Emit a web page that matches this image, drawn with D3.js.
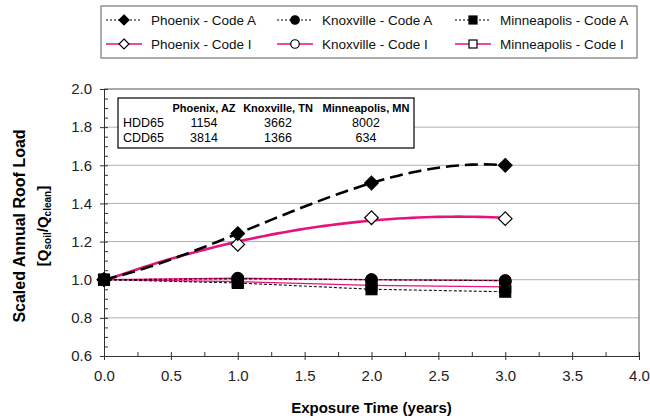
<!DOCTYPE html>
<html><head><meta charset="utf-8">
<script src="https://cdn.jsdelivr.net/npm/d3@7"></script>
<style>body{margin:0;background:#fff}svg{font-family:"Liberation Sans",Arial,sans-serif}</style>
</head><body><svg id="c" width="650" height="420"></svg>
<script>
const years = [0, 1, 2, 3];
const phoenixA = [1.0, 1.242, 1.507, 1.60];
const knoxvilleA = [1.0, 1.005, 1.0, 0.995];
const minneapolisA = [1.0, 0.983, 0.95, 0.937];
const phoenixI = [1.0, 1.185, 1.325, 1.32];
const knoxvilleI = [1.0, 1.008, 1.0, 0.995];
const minneapolisI = [1.0, 0.99, 0.97, 0.962];
const xTicks = [0, 0.5, 1, 1.5, 2, 2.5, 3, 3.5, 4];
const yTicks = [0.6, 0.8, 1.0, 1.2, 1.4, 1.6, 1.8, 2.0];
const tableCities = ["Phoenix, AZ", "Knoxville, TN", "Minneapolis, MN"];
const tableRows = ["HDD65", "CDD65"];
const hdd65 = [1154, 3662, 8002];
const cdd65 = [3814, 1366, 634];

const PINK = "#e6127e";
const svg = d3.select("#c");
const L = 104, R = 639, T = 89, B = 356;
const x = d3.scaleLinear().domain([0, 4]).range([L, R]);
const y = d3.scaleLinear().domain([0.6, 2.0]).range([B, T]);

// grid
svg.append("g").selectAll("line").data(yTicks.filter(v => v > 0.6 && v < 2.0)).join("line")
  .attr("x1", L).attr("x2", R).attr("y1", d => y(d)).attr("y2", d => y(d))
  .attr("stroke", "#b0b0b0").attr("stroke-width", 1);
// frame top/right
svg.append("line").attr("x1", L).attr("x2", R).attr("y1", T).attr("y2", T).attr("stroke", "#555");
svg.append("line").attr("x1", R).attr("x2", R).attr("y1", T).attr("y2", B).attr("stroke", "#555");

// axes
const xAxis = svg.append("g").attr("transform", `translate(0,${B})`)
  .call(d3.axisBottom(x).tickValues(xTicks).tickFormat(d3.format(".1f")).tickSize(4).tickPadding(10));
xAxis.selectAll(".tick line").attr("y1", -4);
const xMinor = svg.append("g").attr("transform", `translate(0,${B})`)
  .call(d3.axisBottom(x).tickValues(d3.range(0.25, 4, 0.5)).tickFormat("").tickSize(-4));
xMinor.select(".domain").remove();
const yAxis = svg.append("g").attr("transform", `translate(${L},0)`)
  .call(d3.axisLeft(y).tickValues(yTicks).tickFormat(d3.format(".1f")).tickSize(4).tickPadding(8));
yAxis.selectAll(".tick line").attr("x1", 4);
const yMinor = svg.append("g").attr("transform", `translate(${L},0)`)
  .call(d3.axisLeft(y).tickValues(d3.range(0.65, 2.0, 0.05).filter(v => Math.abs(v * 5 - Math.round(v * 5)) > 0.01)).tickFormat("").tickSize(-4));
yMinor.select(".domain").remove();
svg.selectAll(".domain, .tick line").attr("stroke", "#333");
svg.selectAll(".tick text").attr("font-size", 15).attr("fill", "#222").attr("font-family", "Liberation Sans, Arial");

// titles
svg.append("text").attr("x", (L + R) / 2).attr("y", 413).attr("text-anchor", "middle")
  .attr("font-size", 15).attr("font-weight", "bold").text("Exposure Time (years)");
svg.append("text").attr("transform", "translate(25,226) rotate(-90)").attr("text-anchor", "middle")
  .attr("font-size", 16).attr("font-weight", "bold").text("Scaled Annual Roof Load");
const yt2 = svg.append("text").attr("transform", "translate(48,226) rotate(-90)").attr("text-anchor", "middle")
  .attr("font-size", 15).attr("font-weight", "bold");
yt2.append("tspan").text("[Q");
yt2.append("tspan").attr("font-size", 10).attr("dy", 3).text("soil");
yt2.append("tspan").attr("dy", -3).text("/Q");
yt2.append("tspan").attr("font-size", 10).attr("dy", 3).text("clean");
yt2.append("tspan").attr("dy", -3).text("]");

// polynomial least squares fit
function polyfit(xs, ys, order) {
  const n = order + 1;
  const A = [], b = [];
  for (let i = 0; i < n; i++) {
    A.push([]);
    for (let j = 0; j < n; j++) A[i].push(d3.sum(xs, v => Math.pow(v, i + j)));
    b.push(d3.sum(xs, (v, k) => Math.pow(v, i) * ys[k]));
  }
  for (let i = 0; i < n; i++) {
    let p = i;
    for (let r = i + 1; r < n; r++) if (Math.abs(A[r][i]) > Math.abs(A[p][i])) p = r;
    [A[i], A[p]] = [A[p], A[i]]; [b[i], b[p]] = [b[p], b[i]];
    for (let r = i + 1; r < n; r++) {
      const f = A[r][i] / A[i][i];
      for (let c = i; c < n; c++) A[r][c] -= f * A[i][c];
      b[r] -= f * b[i];
    }
  }
  const co = new Array(n).fill(0);
  for (let i = n - 1; i >= 0; i--) {
    let s = b[i];
    for (let c = i + 1; c < n; c++) s -= A[i][c] * co[c];
    co[i] = s / A[i][i];
  }
  return t => co.reduce((a, c, i) => a + c * Math.pow(t, i), 0);
}
const line = d3.line().x(d => x(d[0])).y(d => y(d[1]));
const samp = d3.range(0, 3.0001, 0.05);

// thin series lines for Knoxville / Minneapolis
const thin = [
  {v: minneapolisI, color: PINK, w: 1.3, dash: null},
  {v: knoxvilleI, color: PINK, w: 1.3, dash: null},
  {v: minneapolisA, color: "#111", w: 1.1, dash: "3,2"},
  {v: knoxvilleA, color: "#111", w: 1.1, dash: "3,2"}
];
thin.forEach(s => {
  svg.append("path").attr("d", line(years.map((t, i) => [t, s.v[i]])))
    .attr("fill", "none").attr("stroke", s.color).attr("stroke-width", s.w).attr("stroke-dasharray", s.dash);
});
// Phoenix trendlines
const fI = polyfit(years, phoenixI, 2);
svg.append("path").attr("d", line(samp.map(t => [t, fI(t)])))
  .attr("fill", "none").attr("stroke", PINK).attr("stroke-width", 2.6);
const fA = polyfit(years, phoenixA, 3);
svg.append("path").attr("d", line(samp.map(t => [t, fA(t)])))
  .attr("fill", "none").attr("stroke", "#000").attr("stroke-width", 2.6).attr("stroke-dasharray", "13,6");

// markers
function marker(g, type, filled, cx, cy, s) {
  const fill = filled ? "#000" : "#fff";
  if (type === "diamond") {
    g.append("path").attr("d", `M${cx},${cy - s}L${cx + s},${cy}L${cx},${cy + s}L${cx - s},${cy}Z`)
      .attr("fill", fill).attr("stroke", "#000").attr("stroke-width", 1.2);
  } else if (type === "circle") {
    g.append("circle").attr("cx", cx).attr("cy", cy).attr("r", s * 0.85)
      .attr("fill", fill).attr("stroke", "#000").attr("stroke-width", 1.2);
  } else {
    g.append("rect").attr("x", cx - s * 0.8).attr("y", cy - s * 0.8).attr("width", s * 1.6).attr("height", s * 1.6)
      .attr("fill", fill).attr("stroke", "#000").attr("stroke-width", 1.2);
  }
}
const mg = svg.append("g");
const markerSeries = [
  {v: minneapolisI, type: "square", filled: false},
  {v: knoxvilleI, type: "circle", filled: false},
  {v: phoenixI, type: "diamond", filled: false},
  {v: minneapolisA, type: "square", filled: true},
  {v: knoxvilleA, type: "circle", filled: true},
  {v: phoenixA, type: "diamond", filled: true}
];
markerSeries.forEach(s => years.forEach((t, i) => marker(mg, s.type, s.filled, x(t), y(s.v[i]), 6.8)));

// table box
const tb = svg.append("g");
tb.append("rect").attr("x", 118).attr("y", 98).attr("width", 296).attr("height", 50)
  .attr("fill", "#fff").attr("stroke", "#000").attr("stroke-width", 1.2);
const colX = [204, 278, 366];
tableCities.forEach((c, i) => tb.append("text").attr("x", colX[i]).attr("y", 112).attr("text-anchor", "middle")
  .attr("font-size", 11).attr("font-weight", "bold").text(c));
[hdd65, cdd65].forEach((row, r) => {
  tb.append("text").attr("x", 123).attr("y", 127 + r * 15).attr("font-size", 12.5).text(tableRows[r]);
  row.forEach((v, i) => tb.append("text").attr("x", colX[i]).attr("y", 127 + r * 15).attr("text-anchor", "middle")
    .attr("font-size", 12.5).text(v));
});

// legend
const lg = svg.append("g");
lg.append("rect").attr("x", 101).attr("y", 6).attr("width", 536).attr("height", 52)
  .attr("fill", "#fff").attr("stroke", "#777").attr("stroke-width", 1.2);
const legendNames = ["Phoenix - Code A", "Knoxville - Code A", "Minneapolis - Code A",
                     "Phoenix - Code I", "Knoxville - Code I", "Minneapolis - Code I"];
const legendTypes = ["diamond", "circle", "square"];
const colStart = [106, 277, 455];
legendNames.forEach((name, k) => {
  const row = Math.floor(k / 3), col = k % 3;
  const ly = 20 + row * 24, lx = colStart[col];
  lg.append("line").attr("x1", lx).attr("x2", lx + 36).attr("y1", ly).attr("y2", ly)
    .attr("stroke", row === 0 ? "#000" : PINK).attr("stroke-width", row === 0 ? 1 : 1.5)
    .attr("stroke-dasharray", row === 0 ? "2,2" : null);
  marker(lg, legendTypes[col], row === 0, lx + 18, ly, 5);
  lg.append("text").attr("x", lx + 45).attr("y", ly + 5).attr("font-size", 13.5).attr("fill", "#111").text(name);
});
</script></body></html>
